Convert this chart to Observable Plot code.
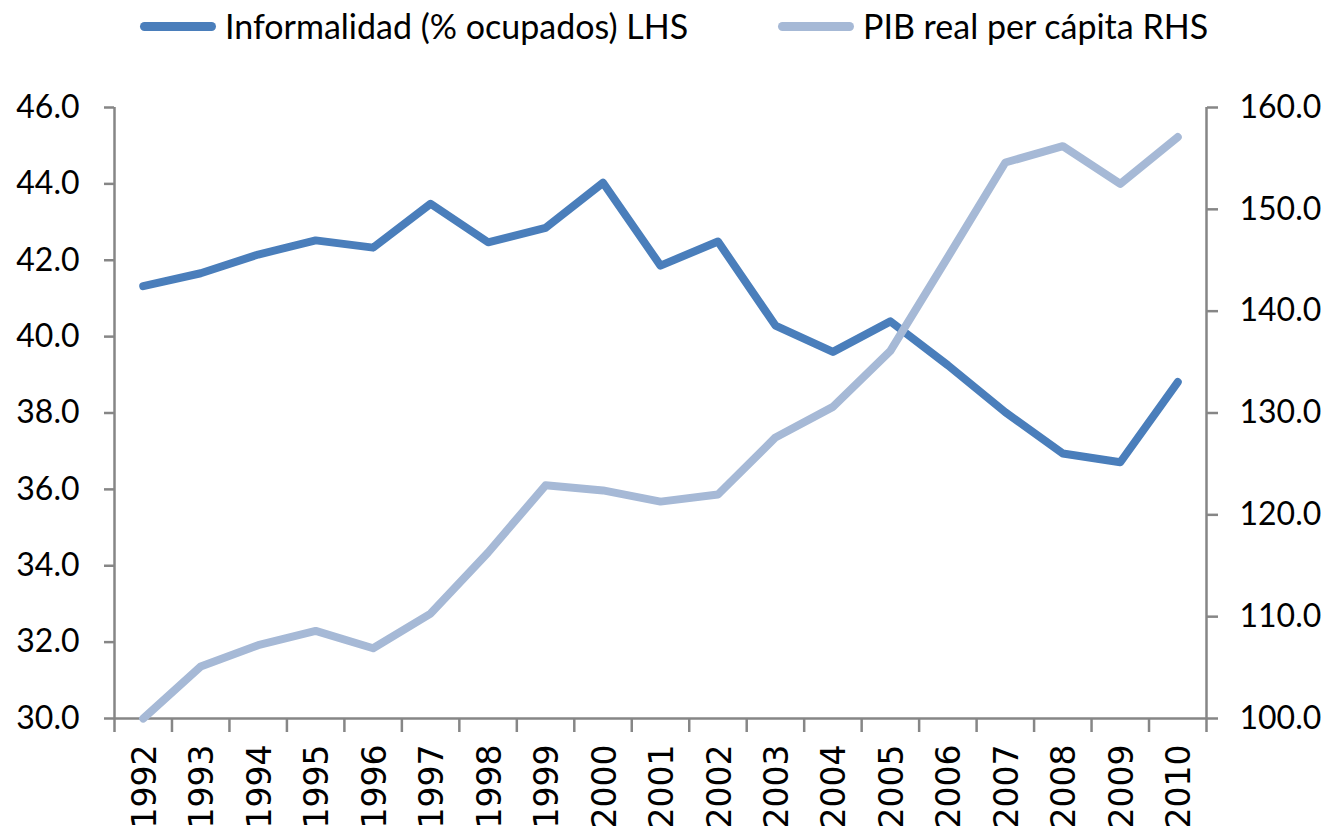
<!DOCTYPE html>
<html><head><meta charset="utf-8">
<script src="https://cdn.jsdelivr.net/npm/d3@7"></script>
<script src="https://cdn.jsdelivr.net/npm/@observablehq/plot@0.6"></script>
<style>
body{margin:0;background:#fff;width:1334px;height:835px;overflow:hidden}
#legend{position:relative;height:60px;font-family:Lato,"Open Sans",sans-serif;font-size:34px;color:#000}
.item{position:absolute;top:4px;display:flex;align-items:center;white-space:nowrap;line-height:44px}
.sw{display:inline-block;width:76px;height:9px;border-radius:5px;margin-right:9px}
#chart svg{display:block}
</style></head><body>
<div id="legend"></div>
<div id="chart"></div>
<script>
const years = [1992,1993,1994,1995,1996,1997,1998,1999,2000,2001,2002,2003,2004,2005,2006,2007,2008,2009,2010];
const informalidad = [41.32,41.66,42.15,42.52,42.33,43.48,42.47,42.85,44.03,41.86,42.49,40.29,39.60,40.40,39.25,38.02,36.94,36.71,38.81];
const pib = [100.0,105.1,107.2,108.6,106.9,110.3,116.3,122.9,122.4,121.3,122.0,127.6,130.6,136.1,145.3,154.6,156.2,152.5,157.1];
const leftTicks = [30,32,34,36,38,40,42,44,46];
const rightTicks = [100,110,120,130,140,150,160];
const seriesNames = ["Informalidad (% ocupados) LHS","PIB real per cápita RHS"];
const colors = ["#4A7EBB","#A6B9D6"];

const yLeft = [leftTicks[0], leftTicks[leftTicks.length-1]];
const yRight = [rightTicks[0], rightTicks[rightTicks.length-1]];
const toLeft = v => yLeft[0] + (v - yRight[0]) * (yLeft[1]-yLeft[0])/(yRight[1]-yRight[0]);
const toRight = v => yRight[0] + (v - yLeft[0]) * (yRight[1]-yRight[0])/(yLeft[1]-yLeft[0]);
const xDomain = [years[0]-0.5, years[years.length-1]+0.5];
const boundaries = [...years.map(y => y-0.5), years[years.length-1]+0.5];

const rowsA = years.map((year,i)=>({year, v: informalidad[i]}));
const rowsB = years.map((year,i)=>({year, v: toLeft(pib[i])}));

// legend
const legend = document.getElementById("legend");
const lefts = [140, 778];
seriesNames.forEach((name,i)=>{
  const it = document.createElement("div");
  it.className = "item";
  it.style.left = lefts[i]+"px";
  it.innerHTML = `<span class="sw" style="background:${colors[i]}"></span><span>${name}</span>`;
  legend.appendChild(it);
});

const grey = "#868686";
const tickFont = "Lato, 'Open Sans', sans-serif";
const chart = Plot.plot({
  width: 1334, height: 775,
  marginTop: 47, marginBottom: 117, marginLeft: 114, marginRight: 128,
  style: {background: "#fff", color: "#000"},
  x: {type: "linear", domain: xDomain},
  y: {domain: yLeft},
  marks: [
    Plot.axisX(boundaries, {tickSize: 14, tickFormat: () => "", stroke: grey, strokeWidth: 2.5, label: null}),
    Plot.axisX(years, {tickSize: 0, tickPadding: 26, tickRotate: -90, fontSize: 33, fontFamily: "DejaVu Sans, sans-serif", fill: "#000", dx: 2, tickFormat: d => String(d), label: null}),
    Plot.axisY(leftTicks, {anchor: "left", tickSize: 10, tickPadding: 25, stroke: grey, strokeWidth: 2.5, fontSize: 32, fontFamily: tickFont, fill: "#000", tickFormat: d => d.toFixed(1), label: null}),
    Plot.axisY(rightTicks.map(toLeft), {anchor: "right", tickSize: 11, tickPadding: 22, stroke: grey, strokeWidth: 2.5, fontSize: 32, fontFamily: tickFont, fill: "#000", tickFormat: d => toRight(d).toFixed(1), label: null}),
    Plot.ruleX(xDomain, {stroke: grey, strokeWidth: 2.5}),
    Plot.ruleY([yLeft[0]], {stroke: grey, strokeWidth: 2.5}),
    Plot.line(rowsA, {x: "year", y: "v", stroke: colors[0], strokeWidth: 8, strokeLinecap: "round", strokeLinejoin: "round"}),
    Plot.line(rowsB, {x: "year", y: "v", stroke: colors[1], strokeWidth: 8, strokeLinecap: "round", strokeLinejoin: "round"})
  ]
});
document.getElementById("chart").appendChild(chart);
</script>
</body></html>
